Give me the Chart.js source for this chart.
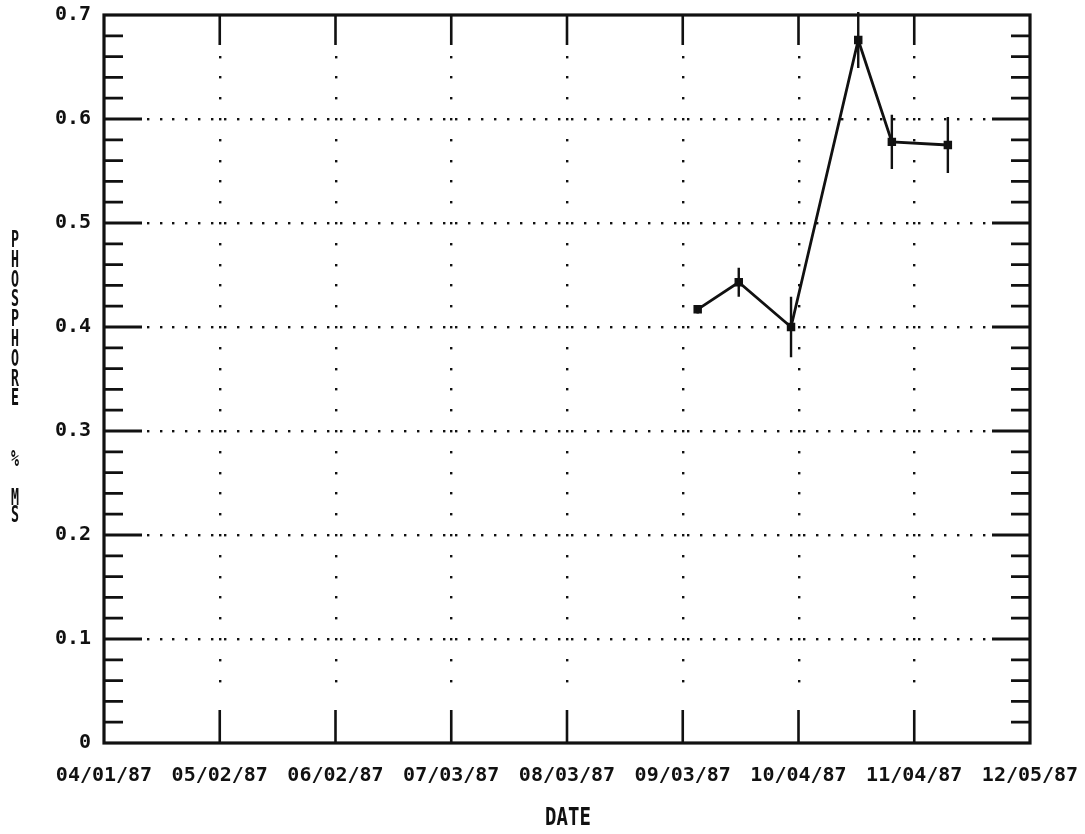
<!DOCTYPE html>
<html>
<head>
<meta charset="utf-8">
<title>Phosphore % MS</title>
<script src="https://cdn.jsdelivr.net/npm/chart.js@4.4.1/dist/chart.umd.min.js"></script>
<style>
  html, body { margin: 0; padding: 0; background: #fff; }
  #wrap { width: 1085px; height: 834px; }
</style>
</head>
<body>
<div id="wrap"><canvas id="chart" width="1085" height="834"></canvas></div>
<script>
// axis labels, one every 31 days from 04/01/87
var dateLabels = ['04/01/87', '05/02/87', '06/02/87', '07/03/87', '08/03/87',
                  '09/03/87', '10/04/87', '11/04/87', '12/05/87'];
var dayStep = 31;

// samples: day since 04/01/87, phosphore value and half error bar
var sampleDays = [159, 170, 184, 202, 211, 226];
var phosphore  = [0.417, 0.443, 0.400, 0.676, 0.578, 0.575];
var errHalf    = [0.004, 0.014, 0.029, 0.027, 0.026, 0.027];

// y title, stacked letter by letter (y centre of each)
var yTitle   = ['P', 'H', 'O', 'S', 'P', 'H', 'O', 'R', 'E', '%', 'M', 'S'];
var yTitlePos = [241, 261, 281, 300, 320, 340, 360, 380, 399, 460, 499, 516];

var points = [];
for (var i = 0; i < sampleDays.length; i++) {
  points.push({ x: sampleDays[i], y: phosphore[i] });
}

var INK = '#111';

function tallText(ctx, txt, x, y, size, sx, sy) {
  ctx.save();
  ctx.font = 'bold ' + size + 'px "DejaVu Sans Mono"';
  ctx.textAlign = 'center';
  ctx.textBaseline = 'middle';
  ctx.translate(x, y);
  ctx.scale(sx, sy);
  ctx.fillText(txt, 0, 0);
  ctx.restore();
}

// frame, inward ticks and dotted grid
var framePlugin = {
  id: 'frame',
  beforeDatasetsDraw: function(chart) {
    var ctx = chart.ctx, a = chart.chartArea;
    var xs = chart.scales.x, ys = chart.scales.y;
    ctx.save();
    ctx.fillStyle = INK;
    ctx.strokeStyle = INK;

    // dotted horizontal grid at each 0.1
    var dx = (xs.getPixelForValue(dayStep) - xs.getPixelForValue(0)) / 9;
    for (var v = 1; v < 7; v++) {
      var py = ys.getPixelForValue(v / 10);
      for (var px = a.left + 3.4 * dx; px < a.right - 40; px += dx) {
        ctx.fillRect(Math.round(px) - 1, Math.round(py) - 1, 2.4, 2.4);
      }
    }
    // dotted vertical grid at each month
    for (var k = 1; k < dateLabels.length - 1; k++) {
      var gx = xs.getPixelForValue(k * dayStep);
      for (var m = 3; m < 34; m++) {
        var gy = ys.getPixelForValue(m * 0.02);
        ctx.fillRect(Math.round(gx) - 1, Math.round(gy) - 1, 2.4, 2.4);
      }
      // major ticks top and bottom
      ctx.lineWidth = 2.6;
      ctx.beginPath();
      ctx.moveTo(gx, a.top); ctx.lineTo(gx, a.top + 30);
      ctx.moveTo(gx, a.bottom); ctx.lineTo(gx, a.bottom - 33);
      ctx.stroke();
    }

    // y ticks on both sides, minor every 0.02
    ctx.lineWidth = 2.8;
    ctx.beginPath();
    for (var n = 1; n < 35; n++) {
      var ty = ys.getPixelForValue(n * 0.02);
      var len = (n % 5 === 0) ? 38 : 19;
      ctx.moveTo(a.left, ty); ctx.lineTo(a.left + len, ty);
      ctx.moveTo(a.right, ty); ctx.lineTo(a.right - len, ty);
    }
    ctx.stroke();

    // frame
    ctx.lineWidth = 3.2;
    ctx.strokeRect(a.left, a.top, a.right - a.left, a.bottom - a.top);
    ctx.restore();
  },
  afterDatasetsDraw: function(chart) {
    var ctx = chart.ctx;
    var xs = chart.scales.x, ys = chart.scales.y;
    ctx.save();
    ctx.strokeStyle = INK;
    ctx.lineWidth = 2.4;
    ctx.beginPath();
    for (var i = 0; i < sampleDays.length; i++) {
      var px = xs.getPixelForValue(sampleDays[i]);
      ctx.moveTo(px, ys.getPixelForValue(phosphore[i] + errHalf[i]));
      ctx.lineTo(px, ys.getPixelForValue(phosphore[i] - errHalf[i]));
    }
    ctx.stroke();
    ctx.restore();
  },
  afterDraw: function(chart) {
    var ctx = chart.ctx, a = chart.chartArea;
    ctx.save();
    ctx.fillStyle = INK;
    for (var i = 0; i < yTitle.length; i++) {
      tallText(ctx, yTitle[i], 15, yTitlePos[i], 14, 0.95, 1.65);
    }
    // x title
    tallText(ctx, 'DATE', (a.left + a.right) / 2 + 1, 818, 19, 1.0, 1.35);
    ctx.restore();
  }
};

new Chart(document.getElementById('chart'), {
  type: 'line',
  data: {
    datasets: [{
      data: points,
      borderColor: INK,
      backgroundColor: INK,
      borderWidth: 2.8,
      pointStyle: 'rect',
      pointRadius: 4,
      pointHoverRadius: 4,
      tension: 0
    }]
  },
  options: {
    responsive: false,
    animation: false,
    devicePixelRatio: 1,
    layout: { padding: { left: 0, right: 55, top: 15, bottom: 0 } },
    plugins: { legend: { display: false }, tooltip: { enabled: false } },
    scales: {
      x: {
        type: 'linear',
        min: 0,
        max: dayStep * (dateLabels.length - 1),
        grid: { display: false, drawTicks: false },
        border: { display: false },
        afterFit: function(s) {
          s.height = 91;
          s.paddingLeft = 0;
          s.paddingRight = 0;
        },
        afterBuildTicks: function(s) {
          s.ticks = dateLabels.map(function(l, i) { return { value: i * dayStep }; });
        },
        ticks: {
          autoSkip: false,
          maxRotation: 0,
          padding: 21,
          color: INK,
          font: { family: '"DejaVu Sans Mono"', size: 20, weight: 'bold' },
          callback: function(v) { return dateLabels[Math.round(v / dayStep)]; }
        }
      },
      y: {
        min: 0,
        max: 0.7,
        grid: { display: false, drawTicks: false },
        border: { display: false },
        afterFit: function(s) {
          s.width = 104;
          s.paddingTop = 0;
          s.paddingBottom = 0;
        },
        ticks: {
          stepSize: 0.1,
          padding: 13,
          color: INK,
          font: { family: '"DejaVu Sans Mono"', size: 20, weight: 'bold' },
          callback: function(v) { return v === 0 ? '0' : v.toFixed(1); }
        }
      }
    }
  },
  plugins: [framePlugin]
});
</script>
</body>
</html>
